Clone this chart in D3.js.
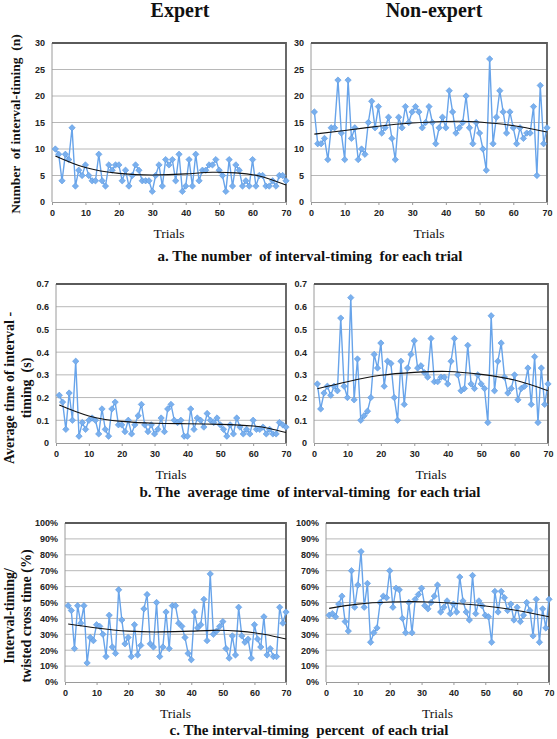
<!DOCTYPE html>
<html><head><meta charset="utf-8">
<script src="https://cdn.jsdelivr.net/npm/d3@7"></script>
<style>body{margin:0;background:#fff}svg{display:block}</style>
</head><body>
<script>
// ---------- DATA ----------
const trials = d3.range(1, 71);
const xTicks = [0, 10, 20, 30, 40, 50, 60, 70];

const countTicks = [0, 5, 10, 15, 20, 25, 30];
const timeTicks = [0, 0.1, 0.2, 0.3, 0.4, 0.5, 0.6, 0.7];
const pctTicks = [0, 0.1, 0.2, 0.3, 0.4, 0.5, 0.6, 0.7, 0.8, 0.9, 1.0];

const expertCount = [10,9,4,9,8,14,3,6,5,7,5,4,4,9,4,3,7,6,7,7,4,6,3,5,7,6,4,4,4,2,5,7,3,8,7,8,4,9,2,3,8,3,9,4,6,6,7,7,8,6,5,2,8,3,7,6,3,4,3,8,3,5,5,3,3,4,3,5,5,4];
const novCount = [17,11,11,12,8,14,14,23,13,8,23,12,14,8,10,9,15,19,14,18,13,14,16,12,8,16,14,18,15,17,18,17,14,15,18,15,11,14,16,14,21,17,13,14,15,20,14,11,15,13,10,6,27,11,16,21,17,13,17,14,11,14,12,13,13,18,5,22,11,14];

const expertTime = [0.21,0.18,0.06,0.22,0.10,0.36,0.03,0.09,0.06,0.10,0.11,0.10,0.04,0.15,0.06,0.03,0.15,0.18,0.08,0.08,0.05,0.10,0.04,0.08,0.12,0.17,0.08,0.05,0.08,0.04,0.06,0.11,0.05,0.15,0.17,0.10,0.09,0.10,0.03,0.03,0.15,0.06,0.11,0.10,0.07,0.13,0.10,0.09,0.11,0.08,0.06,0.03,0.08,0.04,0.11,0.07,0.04,0.06,0.04,0.10,0.06,0.06,0.07,0.04,0.06,0.04,0.04,0.09,0.08,0.07];
const novTime = [0.26,0.15,0.22,0.25,0.21,0.25,0.23,0.55,0.25,0.20,0.64,0.19,0.37,0.10,0.12,0.14,0.20,0.39,0.33,0.44,0.25,0.36,0.35,0.20,0.10,0.36,0.17,0.33,0.39,0.45,0.33,0.34,0.31,0.29,0.46,0.27,0.27,0.29,0.29,0.26,0.36,0.46,0.30,0.23,0.24,0.43,0.26,0.24,0.30,0.26,0.24,0.09,0.56,0.23,0.36,0.44,0.29,0.22,0.24,0.30,0.19,0.24,0.25,0.33,0.17,0.38,0.09,0.33,0.17,0.26];

const expertPct = [0.48,0.45,0.21,0.48,0.37,0.48,0.12,0.28,0.26,0.36,0.35,0.30,0.16,0.42,0.22,0.18,0.58,0.39,0.24,0.28,0.16,0.36,0.17,0.23,0.46,0.55,0.24,0.22,0.50,0.16,0.22,0.44,0.21,0.48,0.48,0.37,0.35,0.28,0.18,0.14,0.44,0.34,0.36,0.52,0.26,0.68,0.30,0.32,0.35,0.38,0.21,0.15,0.29,0.17,0.47,0.29,0.25,0.27,0.15,0.36,0.27,0.22,0.41,0.17,0.21,0.16,0.16,0.47,0.37,0.44];
const novPct = [0.42,0.43,0.41,0.49,0.54,0.38,0.32,0.70,0.47,0.61,0.82,0.47,0.62,0.25,0.31,0.34,0.50,0.54,0.53,0.70,0.47,0.59,0.58,0.40,0.31,0.50,0.31,0.52,0.55,0.59,0.48,0.46,0.50,0.54,0.61,0.44,0.47,0.51,0.43,0.49,0.44,0.66,0.51,0.44,0.39,0.67,0.43,0.51,0.48,0.42,0.41,0.25,0.57,0.44,0.57,0.53,0.45,0.49,0.39,0.47,0.38,0.42,0.50,0.45,0.29,0.52,0.25,0.46,0.34,0.52];

// trend lines (polynomial trendlines)
const expertCountTrendX = [1,10,20,30,40,48,55,62,70];
const expertCountTrendY = [8.7,6.5,5.4,5.1,5.3,5.6,5.5,4.9,3.2];
const novCountTrendX = [1,10,20,30,40,47,55,62,70];
const novCountTrendY = [12.8,13.5,14.3,14.9,15.2,15.2,14.8,14.2,13.2];
const expertTimeTrendX = [1,10,20,30,40,50,60,65,70];
const expertTimeTrendY = [0.167,0.119,0.095,0.087,0.085,0.082,0.075,0.064,0.046];
const novTimeTrendX = [1,10,20,30,40,50,60,70];
const novTimeTrendY = [0.239,0.27,0.298,0.311,0.315,0.302,0.277,0.23];
const expertPctTrendX = [1,10,20,30,40,47,55,63,70];
const expertPctTrendY = [0.365,0.34,0.32,0.315,0.32,0.325,0.32,0.30,0.27];
const novPctTrendX = [1,10,20,30,40,50,60,70];
const novPctTrendY = [0.463,0.49,0.503,0.505,0.495,0.478,0.45,0.41];

const headers = ["Expert", "Non-expert"];
const captions = ["a. The number  of interval-timing  for each trial",
                  "b. The  average time  of interval-timing  for each trial",
                  "c. The interval-timing  percent  of each trial"];

// ---------- DRAW ----------
const W = 557, H = 739;
const svg = d3.select("body").append("svg").attr("width", W).attr("height", H);

const BLUE = "#68a4ea";
const serif = "'Liberation Serif','Times New Roman',serif";
const sans = "'Liberation Sans',Arial,sans-serif";

const fmtCount = d3.format("d");
const fmtTime = v => v === 0 ? "0" : d3.format(".1f")(v);
const fmtPct = d3.format(".0%");

const panels = [
  {x0:52, x1:286, y0:43, y1:202, max:30, ticks:countTicks, fmt:fmtCount, data:expertCount, tx:expertCountTrendX, ty:expertCountTrendY},
  {x0:311, x1:547, y0:43, y1:202, max:30, ticks:countTicks, fmt:fmtCount, data:novCount, tx:novCountTrendX, ty:novCountTrendY},
  {x0:56, x1:286, y0:284, y1:443, max:0.7, ticks:timeTicks, fmt:fmtTime, data:expertTime, tx:expertTimeTrendX, ty:expertTimeTrendY},
  {x0:314, x1:548, y0:284, y1:443, max:0.7, ticks:timeTicks, fmt:fmtTime, data:novTime, tx:novTimeTrendX, ty:novTimeTrendY},
  {x0:65, x1:286, y0:523, y1:682, max:1.0, ticks:pctTicks, fmt:fmtPct, data:expertPct, tx:expertPctTrendX, ty:expertPctTrendY},
  {x0:326, x1:549, y0:523, y1:682, max:1.0, ticks:pctTicks, fmt:fmtPct, data:novPct, tx:novPctTrendX, ty:novPctTrendY}
];

const diamond = d3.symbol().type(d3.symbolDiamond2).size(26);

panels.forEach(p => {
  const x = d3.scaleLinear().domain([0, 70]).range([p.x0, p.x1]);
  const y = d3.scaleLinear().domain([0, p.max]).range([p.y1, p.y0]);
  const g = svg.append("g");

  // gridlines
  g.selectAll("line.grid").data(p.ticks.slice(1, -1)).join("line")
    .attr("x1", p.x0).attr("x2", p.x1)
    .attr("y1", d => y(d)).attr("y2", d => y(d))
    .attr("stroke", "#b8b8b8").attr("stroke-width", 1);

  // y axis
  const ya = g.append("g").attr("transform", `translate(${p.x0},0)`)
    .call(d3.axisLeft(y).tickValues(p.ticks).tickFormat(p.fmt).tickSize(0).tickPadding(7));
  ya.select(".domain").remove();
  ya.selectAll("text").attr("font-family", sans).attr("font-weight", "bold")
    .attr("font-size", 9).attr("fill", "#222");
  g.append("line").attr("x1", p.x0).attr("x2", p.x0).attr("y1", p.y0).attr("y2", p.y1)
    .attr("stroke", "#9a9a9a").attr("stroke-width", 1);

  // x axis
  const xa = g.append("g").attr("transform", `translate(0,${p.y1})`)
    .call(d3.axisBottom(x).tickValues(xTicks).tickFormat(d3.format("d")).tickSize(3).tickPadding(5));
  xa.select(".domain").attr("stroke", "#9a9a9a");
  xa.selectAll(".tick line").attr("stroke", "#9a9a9a");
  xa.selectAll("text").attr("font-family", sans).attr("font-weight", "bold")
    .attr("font-size", 9).attr("fill", "#222");

  // frame top and right
  g.append("path")
    .attr("d", `M${p.x0},${p.y0}H${p.x1}V${p.y1}`)
    .attr("fill", "none").attr("stroke", "#5a5a5a").attr("stroke-width", 1.8);

  // series line
  g.append("path").datum(p.data)
    .attr("d", d3.line().x((d, i) => x(trials[i])).y(d => y(d)))
    .attr("fill", "none").attr("stroke", BLUE).attr("stroke-width", 1.4);

  // markers
  g.selectAll("path.mk").data(p.data).join("path").attr("class", "mk")
    .attr("d", diamond)
    .attr("transform", (d, i) => `translate(${x(trials[i])},${y(d)})`)
    .attr("fill", "#7ab0ee").attr("stroke", "#5b98e0").attr("stroke-width", 0.6);

  // trend line
  g.append("path").datum(p.tx.map((t, i) => [t, p.ty[i]]))
    .attr("d", d3.line().x(d => x(d[0])).y(d => y(d[1])).curve(d3.curveNatural))
    .attr("fill", "none").attr("stroke", "#111").attr("stroke-width", 1.1);

  // "Trials"
  svg.append("text").attr("x", (p.x0 + p.x1) / 2).attr("y", p.y1 + 36)
    .attr("text-anchor", "middle").attr("font-family", serif).attr("font-size", 13.5)
    .attr("fill", "#111").text("Trials");
});

// headers
[180, 434].forEach((cx, i) => {
  svg.append("text").attr("x", cx).attr("y", 17).attr("text-anchor", "middle")
    .attr("font-family", serif).attr("font-weight", "bold").attr("font-size", 20)
    .attr("fill", "#111").text(headers[i]);
});

// captions
[[310, 261], [310, 497], [309, 735]].forEach((pos, i) => {
  svg.append("text").attr("x", pos[0]).attr("y", pos[1]).attr("text-anchor", "middle")
    .attr("font-family", serif).attr("font-weight", "bold").attr("font-size", 15)
    .attr("fill", "#111").style("white-space", "pre").text(captions[i]);
});

// y labels
function ylab(lines, cy, xs, size) {
  lines.forEach((t, i) => {
    svg.append("text").attr("transform", `translate(${xs[i]},${cy}) rotate(-90)`)
      .attr("text-anchor", "middle").attr("font-family", serif).attr("font-weight", "bold")
      .attr("font-size", size).attr("fill", "#111")
      .style("white-space", "pre").text(t);
  });
}
ylab(["Number  of interval-timing  (n)"], 124, [20], 13.5);
ylab(["Average time of interval -", "timing  (s)"], 388, [14, 31], 14);
ylab(["Interval-timing/", "twisted cross time (%)"], 616, [14, 31], 14);
</script>
</body></html>
